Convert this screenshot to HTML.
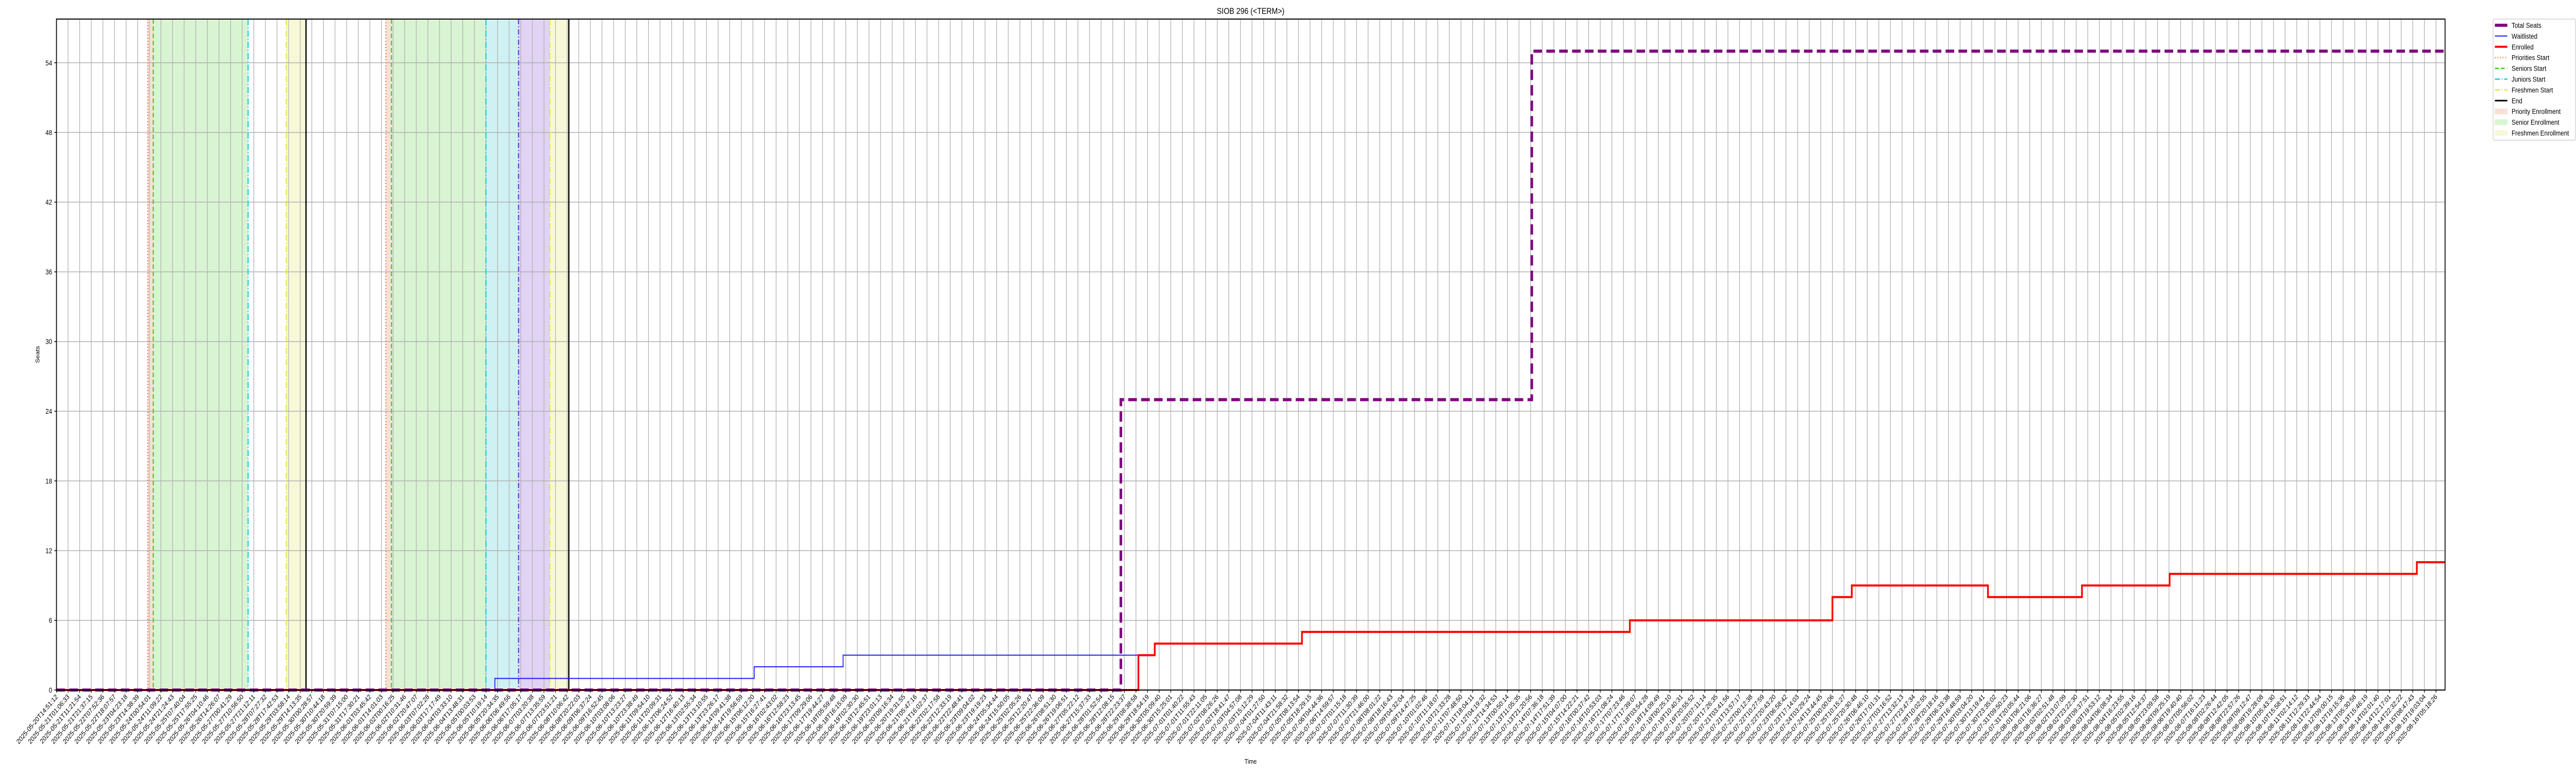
<!DOCTYPE html>
<html><head><meta charset="utf-8"><style>
html,body{margin:0;padding:0;background:#fff;width:100vw;height:100vh;overflow:hidden;}
svg{display:block;position:absolute;left:0;top:0;width:100vw;height:100vh;font-family:"Liberation Sans","DejaVu Sans",sans-serif;overflow:hidden;}
</style></head><body>
<svg id="chart" viewBox="0 0 6000 1500" preserveAspectRatio="none" xmlns="http://www.w3.org/2000/svg">
<rect width="6000" height="1500" fill="#fff"/>
<text x="2913" y="27" font-size="17" text-anchor="middle" fill="#000">SIOB 296 (&lt;TERM&gt;)</text>
<text x="0" y="0" font-size="13" text-anchor="middle" transform="translate(92,688) rotate(-90)">Seats</text>
<text x="2913" y="1482" font-size="13" text-anchor="middle">Time</text>
<g id="spans"></g><g id="grid"></g><g id="vlines"></g><g id="series"></g><g id="axes"></g><g id="legend"></g>
</svg>
<script>
// ---- data (x in sample-index units, one unit per x tick) ----
const yTicks = [0, 6, 12, 18, 24, 30, 36, 42, 48, 54];
const tickCount = 206;
const tickStart = "2025-05-20T14:51:12";
const tickEnd = "2025-08-16T05:18:26";
const totalSteps = [0, 91.7, 127.1];
const totalValues = [0, 25, 55];
const waitSteps = [0, 37.77, 60.11, 67.77, 93.21];
const waitValues = [0, 1, 2, 3, 0];
const enrollSteps = [0, 93.21, 94.62, 107.3, 135.55, 153.0, 154.67, 166.4, 174.5, 182.05, 203.35];
const enrollValues = [0, 3, 4, 5, 6, 8, 9, 8, 9, 10, 11];
const markerNames = ["priorities-start","seniors-start","juniors-start","freshmen-start","end","priorities-start-2","seniors-start-2","juniors-start-2","sophomores-start-2","freshmen-start-2","end-2"];
const markerPos = [7.86, 8.34, 16.51, 19.8, 21.5, 28.38, 28.86, 37.0, 39.81, 42.51, 44.14];
const markerKind = ["pri","sen","jun","fre","end","pri","sen","jun","sop","fre","end"];
const spanStart = [7.86, 8.34, 19.8, 28.38, 28.86, 37.0, 39.81, 42.51];
const spanEnd = [8.34, 16.51, 21.5, 28.86, 37.0, 39.81, 42.51, 44.14];
const spanKind = ["pri","sen","fre","pri","sen","jun","sop","fre"];

const X0 = 131.5, X1 = 5695, Y0 = 37, Y1 = 1339;
const xMax = 205.78, yMax = 57.76;
const sx = u => X0 + u * (X1 - X0) / xMax;
const sy = v => Y1 - v * (Y1 - Y0) / yMax;
const NS = "http://www.w3.org/2000/svg";
function mk(tag, parent, attrs) { const e = document.createElementNS(NS, tag); for (const k in attrs) e.setAttribute(k, attrs[k]); parent.appendChild(e); return e; }
const G = id => document.getElementById(id);

const spanFill = {pri:"#f7e0d5", sen:"#d9f4d2", jun:"#cff1f3", sop:"#e0d3f4", fre:"#f7f8d8"};
const lineStyle = {
  pri:{c:"#e8743b",w:2.5,d:"2,4"}, sen:{c:"#3acc1e",w:2.5,d:"9,5"},
  jun:{c:"#17c8d0",w:2.5,d:"12,4,2,4"}, sop:{c:"#6a2ad0",w:2.5,d:"10,4,2,4"},
  fre:{c:"#e5e53a",w:2.5,d:"12,4,2,4"}, end:{c:"#000",w:3,d:""}};

for (let i = 0; i < spanStart.length; i++) {
  const r = mk("rect", G("spans"), {x: sx(spanStart[i]), y: Y0, width: sx(spanEnd[i]) - sx(spanStart[i]), height: Y1 - Y0, fill: spanFill[spanKind[i]]});
  
  
}
for (let i = 0; i < tickCount; i++) {
  const l = mk("line", G("grid"), {x1: sx(i), x2: sx(i), y1: Y0, y2: Y1, stroke: "#b0b0b0", "stroke-width": 1.5});
  
  
}
yTicks.forEach(v => {
  const l = mk("line", G("grid"), {x1: X0, x2: X1, y1: sy(v), y2: sy(v), stroke: "#b0b0b0", "stroke-width": 1.5});
  
  
});
for (let i = 0; i < markerPos.length; i++) {
  const s = lineStyle[markerKind[i]];
  const l = mk("line", G("vlines"), {x1: sx(markerPos[i]), x2: sx(markerPos[i]), y1: Y0, y2: Y1, stroke: s.c, "stroke-width": s.w, "stroke-dasharray": s.d});
  
  
}
function stepPath(steps, vals) {
  let d = "M" + sx(steps[0]) + "," + sy(vals[0]);
  for (let i = 1; i < steps.length; i++) d += " L" + sx(steps[i]) + "," + sy(vals[i - 1]) + " L" + sx(steps[i]) + "," + sy(vals[i]);
  d += " L" + sx(xMax) + "," + sy(vals[vals.length - 1]);
  return d;
}
const pw = mk("path", G("series"), {d: stepPath(waitSteps, waitValues), fill: "none", stroke: "#1a1aff", "stroke-width": 2});


const pe = mk("path", G("series"), {d: stepPath(enrollSteps, enrollValues), fill: "none", stroke: "#ff0000", "stroke-width": 4});


const pt = mk("path", G("series"), {d: stepPath(totalSteps, totalValues), fill: "none", stroke: "#800080", "stroke-width": 6, "stroke-dasharray": "20,10"});


const frame = mk("rect", G("axes"), {x: X0, y: Y0, width: X1 - X0, height: Y1 - Y0, fill: "none", stroke: "#000", "stroke-width": 2});


yTicks.forEach(v => {
  mk("line", G("axes"), {x1: X0 - 5, x2: X0, y1: sy(v), y2: sy(v), stroke: "#000", "stroke-width": 1.5});
  const t = mk("text", G("axes"), {x: X0 - 10, y: sy(v) + 5, "font-size": 14, "text-anchor": "end"});
  t.textContent = v;
  
  
});
const t0 = Date.parse(tickStart + "Z"), t1 = Date.parse(tickEnd + "Z");
for (let i = 0; i < tickCount; i++) {
  const x = sx(i);
  mk("line", G("axes"), {x1: x, x2: x, y1: Y1, y2: Y1 + 5, stroke: "#000", "stroke-width": 1.5});
  const ts = new Date(t0 + (t1 - t0) * i / (tickCount - 1)).toISOString().slice(0, 19);
  const t = mk("text", G("axes"), {x: 0, y: 0, "font-size": 13.5, "text-anchor": "end", transform: "translate(" + (x + 4) + "," + (Y1 + 14) + ") rotate(-45)"});
  t.textContent = ts;
  
  
}
const lg = G("legend");
const box = mk("rect", lg, {x: 5807, y: 37, width: 192, height: 235, rx: 3, fill: "#fff", stroke: "#d0d0d0", "stroke-width": 1.5});


const legLabels = ["Total Seats","Waitlisted","Enrolled","Priorities Start","Seniors Start","Juniors Start","Freshmen Start","End","Priority Enrollment","Senior Enrollment","Freshmen Enrollment"];
const legStyle = [{c:"#800080",w:6,d:""},{c:"#1a1aff",w:2,d:""},{c:"#ff0000",w:4,d:""},lineStyle.pri,lineStyle.sen,lineStyle.jun,lineStyle.fre,lineStyle.end,"pri","sen","fre"];
legLabels.forEach((lab, i) => {
  const y = 49 + i * 20.9;
  const s = legStyle[i];
  if (typeof s === "string") {
    mk("rect", lg, {x: 5811, y: y - 5, width: 29, height: 10, fill: spanFill[s], stroke: spanFill[s]});
  } else {
    mk("line", lg, {x1: 5811, x2: 5840, y1: y, y2: y, stroke: s.c, "stroke-width": s.w, "stroke-dasharray": s.d});
  }
  const t = mk("text", lg, {x: 5850, y: y + 5, "font-size": 14});
  t.textContent = lab;
  
  
});
</script>
</body></html>
